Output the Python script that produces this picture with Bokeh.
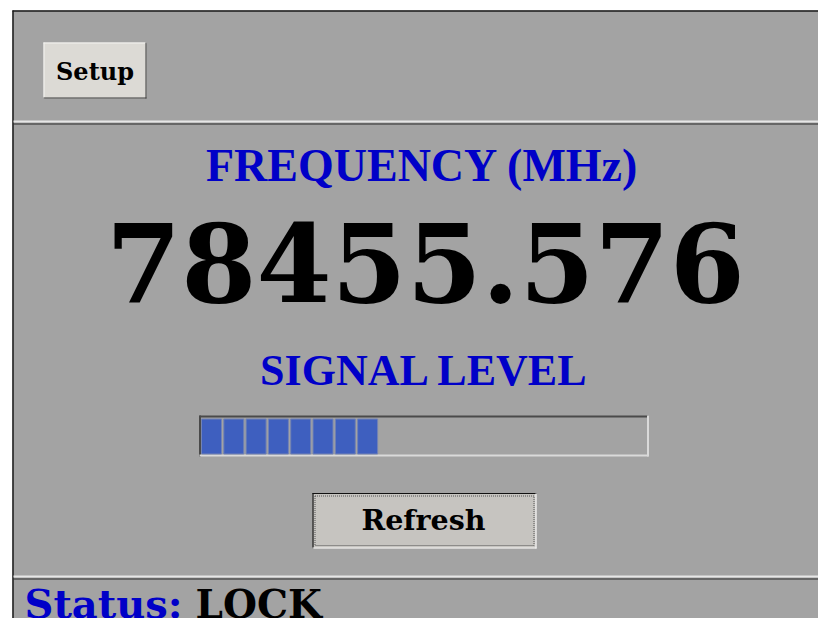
from bokeh.plotting import figure
from bokeh.models import Range1d
from bokeh.core.properties import value
from bokeh.embed import file_html
from bokeh.resources import INLINE

# ---- data ----
frequency_mhz = 78455.576
section_labels = ["FREQUENCY (MHz)", "SIGNAL LEVEL"]
button_labels = ["Setup", "Refresh"]
signal_level = 8      # lit blocks
signal_max = 20       # blocks that fill the bar
status_label = "Status:"
status_value = "LOCK"

BG = "#a3a3a3"
BLUE = "#0000c8"

p = figure(width=818, height=618, output_backend="svg", toolbar_location=None,
           x_range=Range1d(0, 818), y_range=Range1d(618, 0), min_border=0)
p.axis.visible = False
p.grid.visible = False
p.outline_line_color = None
p.background_fill_color = "white"
p.border_fill_color = "white"


def label(x, baseline, txt, font, size, color, align="center"):
    # compensate the svg baseline placement (~0.4 em lower than requested)
    p.text(x=[x], y=[baseline - 0.41 * size], text=[txt], text_font=value(font),
           text_font_style="bold", text_font_size=f"{size}px", text_align=align,
           text_baseline="alphabetic", text_color=color)


# panel background
p.quad(left=[12], right=[830], top=[10], bottom=[640], fill_color=BG, line_color=None)
# outer frame
p.segment(x0=[12, 12.5], y0=[10.5, 10], x1=[830, 12.5], y1=[10.5, 640], line_color="#1a1a1a", line_width=1.5)
# separators
for ylight, ydark in [(121, 123.5), (576, 578.5)]:
    p.segment(x0=[13], y0=[ylight], x1=[830], y1=[ylight], line_color="#e6e6e6", line_width=2)
    p.segment(x0=[13], y0=[ydark], x1=[830], y1=[ydark], line_color="#2a2a2a", line_width=1.2)

# Setup button
p.quad(left=[43], right=[146], top=[42], bottom=[98], fill_color="#dcdad5", line_color=None)
p.segment(x0=[43, 43.5], y0=[42.5, 42], x1=[146, 43.5], y1=[42.5, 98], line_color="#f4f4f2", line_width=1)
p.segment(x0=[43, 145.5], y0=[97.5, 42], x1=[146, 145.5], y1=[97.5, 98], line_color="#3a3a3a", line_width=1)
label(94.5, 81, button_labels[0], "DejaVu Serif", 24, "black")

# Frequency label and value
label(422, 183.5, section_labels[0], "Liberation Serif", 46, BLUE)
label(425, 306, f"{frequency_mhz:.3f}", "DejaVu Serif", 108, "black")

# Signal level label
label(424, 388.5, section_labels[1], "Liberation Serif", 44, BLUE)

# progress trough
tl, tr, tt, tb = 199, 648, 415, 456
p.segment(x0=[tl, tl + 0.5], y0=[tt + 1, tt], x1=[tr, tl + 0.5], y1=[tt + 1, tb], line_color="#4a4a4a", line_width=2)
p.segment(x0=[tl, tr - 0.5], y0=[tb - 1, tt], x1=[tr, tr - 0.5], y1=[tb - 1, tb], line_color="#dadada", line_width=2)
pitch = (tr - tl - 3) / signal_max
lefts = [tl + 2 + i * pitch for i in range(signal_level)]
rights = [l + pitch - 2.3 for l in lefts]
p.quad(left=lefts, right=rights, top=[418.5] * signal_level, bottom=[453.5] * signal_level,
       fill_color="#3e5fbf", line_color="#7383b4", line_width=1)

# Refresh button
p.quad(left=[312], right=[536], top=[492.5], bottom=[548], fill_color="#c6c4c0", line_color=None)
p.segment(x0=[312, 312.5], y0=[493, 492.5], x1=[536, 312.5], y1=[493, 548], line_color="#111111", line_width=1.2)
p.segment(x0=[312, 535.5], y0=[547.5, 493], x1=[536, 535.5], y1=[547.5, 548], line_color="#f4f4f4", line_width=1.2)
p.quad(left=[314.5], right=[533.5], top=[495.5], bottom=[545], fill_color=None,
       line_color="#555555", line_width=1, line_dash="1 1")
label(423, 531.5, button_labels[1], "DejaVu Serif", 28.5, "black")

# Status line
label(24, 619, status_label, "DejaVu Serif", 40, BLUE, align="left")
label(195, 619, status_value, "DejaVu Serif", 39, "black", align="left")

open("out.html", "w").write(file_html(p, INLINE))
